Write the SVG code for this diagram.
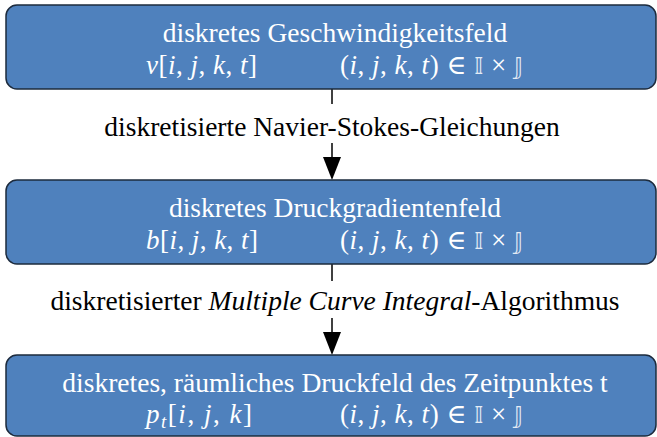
<svg xmlns="http://www.w3.org/2000/svg" width="657" height="437" viewBox="0 0 657 437">
  <style>
    .box { fill: #4F81BD; stroke: #1d2b3d; stroke-width: 1.5; }
    .title { font-family: "Liberation Serif", "Times New Roman", serif; font-size: 27.5px; fill: #ffffff; text-anchor: middle; }
    .math { font-family: "Liberation Serif", "DejaVu Serif", serif; font-size: 27px; fill: #ffffff; }
    .mi { font-style: italic; }
    .ds { font-family: "DejaVu Sans", "DejaVu Serif", sans-serif; font-size: 23px; fill: #e4ebf5; }
    .label { font-family: "Liberation Serif", "Times New Roman", serif; font-size: 27.5px; fill: #000000; text-anchor: middle; }
    .conn { stroke: #000000; stroke-width: 1.5; fill: none; }
  </style>

  <rect width="657" height="437" fill="#ffffff"/>

  <g id="connectors">
    <line class="conn" x1="332" y1="89" x2="332" y2="104"/>
    <line class="conn" x1="332" y1="143" x2="332" y2="157"/>
    <path d="M323,157 L341,157 L332,180 Z" fill="#000000"/>
    <line class="conn" x1="332" y1="264" x2="332" y2="281"/>
    <line class="conn" x1="332" y1="318" x2="332" y2="332"/>
    <path d="M323,332 L341,332 L332,355 Z" fill="#000000"/>
    <text class="label" x="332" y="136">diskretisierte Navier-Stokes-Gleichungen</text>
    <text class="label" x="335" y="310">diskretisierter <tspan font-style="italic">Multiple Curve Integral</tspan>-Algorithmus</text>
  </g>

  <g id="node-velocity">
    <rect class="box" x="6" y="5" width="650" height="84" rx="11" ry="11"/>
    <text class="title" x="335" y="42">diskretes Geschwindigkeitsfeld</text>
    <text class="math" x="146" y="74" textLength="111"><tspan class="mi">v</tspan>[<tspan class="mi">i</tspan>, <tspan class="mi">j</tspan>, <tspan class="mi">k</tspan>, <tspan class="mi">t</tspan>]</text>
    <text class="math" x="340" y="74" textLength="183">(<tspan class="mi">i</tspan>, <tspan class="mi">j</tspan>, <tspan class="mi">k</tspan>, <tspan class="mi">t</tspan>) ∈ <tspan class="ds">𝕀</tspan> × <tspan class="ds">𝕁</tspan></text>
  </g>

  <g id="node-pressure-gradient">
    <rect class="box" x="6" y="180" width="650" height="84" rx="11" ry="11"/>
    <text class="title" x="335" y="217">diskretes Druckgradientenfeld</text>
    <text class="math" x="146" y="249" textLength="112"><tspan class="mi">b</tspan>[<tspan class="mi">i</tspan>, <tspan class="mi">j</tspan>, <tspan class="mi">k</tspan>, <tspan class="mi">t</tspan>]</text>
    <text class="math" x="340" y="249" textLength="183">(<tspan class="mi">i</tspan>, <tspan class="mi">j</tspan>, <tspan class="mi">k</tspan>, <tspan class="mi">t</tspan>) ∈ <tspan class="ds">𝕀</tspan> × <tspan class="ds">𝕁</tspan></text>
  </g>

  <g id="node-pressure">
    <rect class="box" x="6" y="355" width="650" height="81" rx="11" ry="11"/>
    <text class="title" x="335" y="392">diskretes, räumliches Druckfeld des Zeitpunktes t</text>
    <text class="math" x="146" y="423" textLength="106"><tspan class="mi">p</tspan><tspan class="mi" font-size="19" dy="5">t</tspan><tspan dy="-5">[</tspan><tspan class="mi">i</tspan>, <tspan class="mi">j</tspan>, <tspan class="mi">k</tspan>]</text>
    <text class="math" x="340" y="423" textLength="183">(<tspan class="mi">i</tspan>, <tspan class="mi">j</tspan>, <tspan class="mi">k</tspan>, <tspan class="mi">t</tspan>) ∈ <tspan class="ds">𝕀</tspan> × <tspan class="ds">𝕁</tspan></text>
  </g>
</svg>
